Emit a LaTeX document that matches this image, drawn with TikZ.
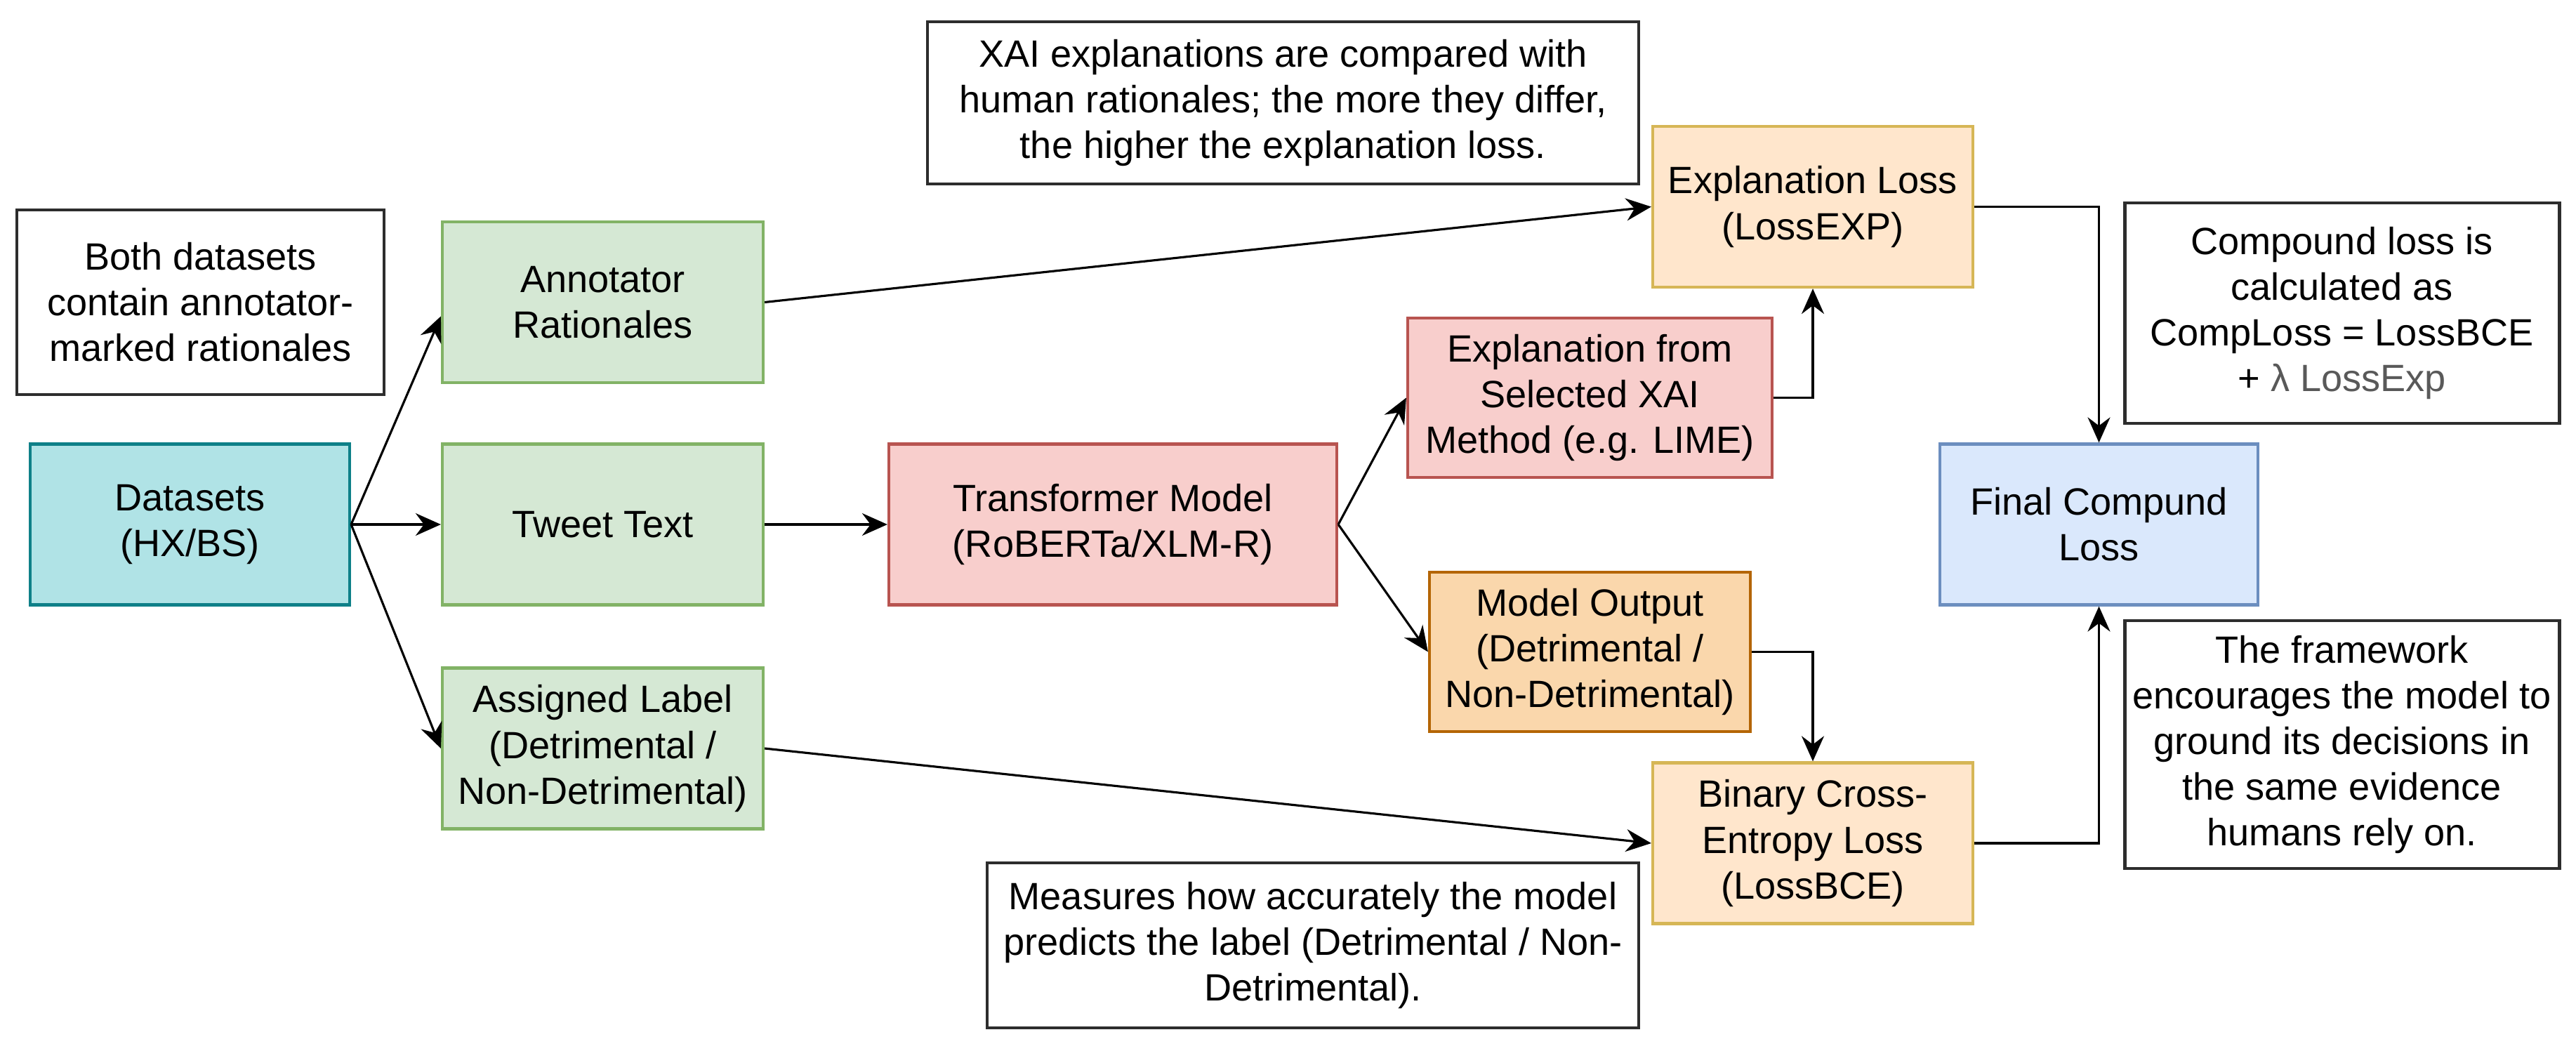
\documentclass[tikz,border=0pt]{standalone}
\usepackage{fontspec}
\setmainfont{Liberation Sans}
\usepackage{tikz}
\usetikzlibrary{positioning,arrows.meta,calc}
\definecolor{jeufond}{RGB}{176,227,230}
\definecolor{jeutrait}{RGB}{14,128,136}
\definecolor{vertfond}{RGB}{213,232,212}
\definecolor{verttrait}{RGB}{130,179,102}
\definecolor{rougefond}{RGB}{248,206,204}
\definecolor{rougetrait}{RGB}{184,84,80}
\definecolor{pertefond}{RGB}{255,230,204}
\definecolor{pertetrait}{RGB}{214,182,86}
\definecolor{sortiefond}{RGB}{250,215,172}
\definecolor{sortietrait}{RGB}{180,101,4}
\definecolor{bleufond}{RGB}{218,232,252}
\definecolor{bleutrait}{RGB}{108,142,191}
\definecolor{notetrait}{RGB}{45,45,45}
\tikzset{
  >={Stealth[length=3.6mm, width=3.2mm, inset=1.2mm]},
  bloc/.style={line width=1.2pt, align=center, inner sep=2pt,
    minimum height=2.29cm, minimum width=#1},
  bloc/.default=4.57cm,
  jeu/.style={bloc=#1, draw=jeutrait, fill=jeufond},
  jeu/.default=4.55cm,
  entree/.style={bloc=#1, draw=verttrait, fill=vertfond},
  entree/.default=4.57cm,
  modele/.style={bloc=#1, draw=rougetrait, fill=rougefond},
  modele/.default=4.57cm,
  sortie/.style={bloc=#1, draw=sortietrait, fill=sortiefond},
  sortie/.default=4.57cm,
  perte/.style={bloc=#1, draw=pertetrait, fill=pertefond},
  perte/.default=4.56cm,
  finale/.style={bloc=#1, draw=bleutrait, fill=bleufond},
  finale/.default=4.53cm,
  remarque/.style={draw=notetrait, fill=white, line width=1.4pt, align=center,
    inner sep=2pt, minimum width=#1},
  remarque/.default=5cm,
  fleche/.style={->, line width=0.9pt, draw=black},
}

\begin{document}
\begin{tikzpicture}[font=\fontsize{15.4}{18.5}\selectfont]
    \useasboundingbox (0,0) rectangle (36.69,14.86);
    % entrees
    \node[remarque=5.23cm, minimum height=2.63cm] (nb) at (2.855,10.555) {Both datasets\\ contain annotator-\\ marked rationales};
    \node[jeu] (ds) at (2.705,7.39) {Datasets\\ (HX/BS)};
    \node[entree] (ann) at (8.585,10.555) {Annotator\\ Rationales};
    \node[entree] (tw) at (8.585,7.39) {Tweet Text};
    \node[entree] (lab) at (8.585,4.20) {Assigned Label\\ (Detrimental /\\ Non-Detrimental)};
    % modele
    \node[modele=6.38cm] (tm) at (15.85,7.39) {Transformer Model\\ (RoBERTa/XLM-R)};
    \node[modele=5.19cm, minimum height=2.27cm] (xai) at (22.645,9.195) {Explanation from\\ Selected XAI\\ Method (e.g. LIME)};
    \node[sortie, minimum height=2.27cm] (sor) at (22.645,5.575) {Model Output\\ (Detrimental /\\ Non-Detrimental)};
    % pertes
    \node[perte] (lexp) at (25.82,11.915) {Explanation Loss\\ (LossEXP)};
    \node[perte] (bce) at (25.82,2.85) {Binary Cross-\\ Entropy Loss\\ (LossBCE)};
    \node[finale] (fin) at (29.895,7.39) {Final Compund\\ Loss};
    % remarques
    \node[remarque=10.13cm, minimum height=2.31cm] (nxai) at (18.275,13.395) {XAI explanations are compared with\\ human rationales; the more they differ,\\ the higher the explanation loss.};
    \node[remarque=9.28cm, minimum height=2.35cm] (nbce) at (18.70,1.395) {Measures how accurately the model\\ predicts the label (Detrimental / Non-\\ Detrimental).};
    \node[remarque=6.19cm, minimum height=3.14cm] (ncomp) at (33.355,10.40) {Compound loss is\\ calculated as\\ CompLoss = LossBCE\\ + {\color{black!65}λ LossExp}};
    \node[remarque=6.19cm, minimum height=3.53cm] (nfw) at (33.355,4.255) {The framework\\ encourages the model to\\ ground its decisions in\\ the same evidence\\ humans rely on.};
    % fleches
    \draw[fleche] (ds.east) -- ([yshift=-2mm]ann.west);
    \draw[fleche] (ds) -- (tw);
    \draw[fleche] (ds.east) -- (lab.west);
    \draw[fleche] (tw) -- (tm);
    \draw[fleche] (ann.east) -- (lexp.west);
    \draw[fleche] (lab.east) -- (bce.west);
    \draw[fleche] (tm.east) -- (xai.west);
    \draw[fleche] (tm.east) -- (sor.west);
    \draw[fleche] (xai.east) -| (lexp.south);
    \draw[fleche] (sor.east) -| (bce.north);
    \draw[fleche] (lexp.east) -| (fin.north);
    \draw[fleche] (bce.east) -| (fin.south);
  \end{tikzpicture}
\end{document}
